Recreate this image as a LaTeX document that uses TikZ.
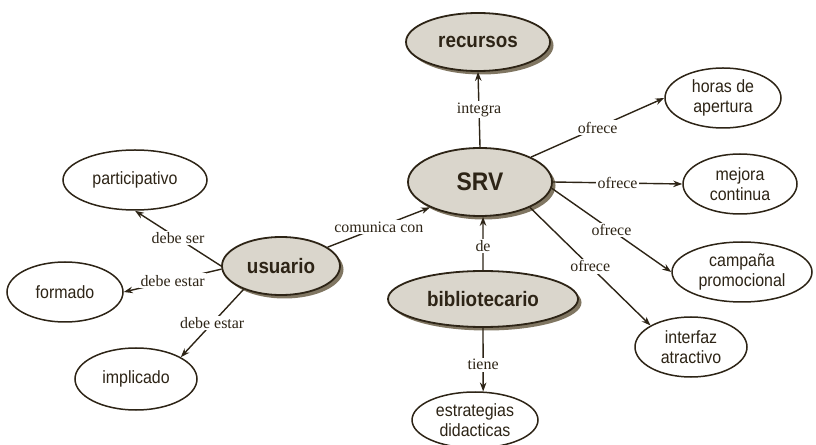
\documentclass[tikz,border=0pt]{standalone}
\usepackage{fontspec}
\setmainfont{Liberation Serif}
\setsansfont[FakeStretch=0.9]{Liberation Sans}
\usetikzlibrary{arrows.meta,shapes.geometric,shadows}
\definecolor{ink}{RGB}{45,36,22}
\definecolor{concept}{RGB}{218,214,204}
\definecolor{shade}{RGB}{128,118,98}

\begin{document}
\begin{tikzpicture}[x=1bp,y=-1bp,
    main/.style={ellipse, draw=ink, line width=1.8bp, fill=concept, inner sep=0pt, text=ink,
        font=\sffamily\bfseries\fontsize{21}{23}\selectfont,
        drop shadow={shadow xshift=3.5bp, shadow yshift=-3.5bp, fill=shade, opacity=1}},
    leaf/.style={ellipse, draw=ink, line width=1.5bp, fill=white, inner sep=0pt, align=center, text=ink,
        font=\sffamily\fontsize{17.8}{20}\selectfont},
    link/.style={draw=ink, line width=1.4bp, -{Stealth[length=9bp,width=6.5bp]}},
    lbl/.style={fill=white, inner sep=1.5bp, text=ink, font=\fontsize{16}{18}\selectfont}]
    \useasboundingbox (0,0) rectangle (816,445);
    \node[main, minimum width=144bp, minimum height=58bp] (recursos) at (478,42) {recursos};
    \node[main, minimum width=144bp, minimum height=68bp, font=\sffamily\bfseries\fontsize{25.5}{28}\selectfont] (srv) at (480,182) {SRV};
    \node[main, minimum width=118bp, minimum height=58bp] (usuario) at (281,266) {usuario};
    \node[main, minimum width=190bp, minimum height=56bp] (biblio) at (483,299) {bibliotecario};
    \node[leaf, minimum width=144bp, minimum height=60bp] (particip) at (135,180) {participativo};
    \node[leaf, minimum width=116bp, minimum height=60bp] (formado) at (65,292) {formado};
    \node[leaf, minimum width=122bp, minimum height=62bp] (implicado) at (136,379) {implicado};
    \node[leaf, minimum width=116bp, minimum height=60bp] (horas) at (723,98) {horas de\\apertura};
    \node[leaf, minimum width=114bp, minimum height=60bp] (mejora) at (740,184) {mejora\\continua};
    \node[leaf, minimum width=140bp, minimum height=60bp] (campana) at (742,272) {campaña\\promocional};
    \node[leaf, minimum width=112bp, minimum height=60bp] (interfaz) at (691,347) {interfaz\\atractivo};
    \node[leaf, minimum width=126bp, minimum height=56bp] (estrateg) at (475,420) {estrategias\\didacticas};
    \draw[link] (srv.north) -- node[lbl] {integra} (recursos.south);
    \draw[link] (usuario.22) -- node[lbl] {comunica con} (srv.207);
    \draw[link] (biblio.north) -- node[lbl, pos=0.45] {de} (srv.275);
    \draw[link] (srv.26) -- node[lbl] {ofrece} (horas.west);
    \draw[link] (srv.east) -- node[lbl] {ofrece} (mejora.west);
    \draw[link] (srv.-5) -- node[lbl] {ofrece} (campana.west);
    \draw[link] (srv.-27) -- node[lbl] {ofrece} (interfaz.152);
    \draw[link] (usuario.west) -- node[lbl] {debe ser} (particip.south);
    \draw[link] (usuario.183) -- node[lbl] {debe estar} (formado.east);
    \draw[link] (usuario.212) -- node[lbl] {debe estar} (implicado.26);
    \draw[link] (biblio.south) -- node[lbl, pos=0.58] {tiene} (estrateg.74);
\end{tikzpicture}
\end{document}
